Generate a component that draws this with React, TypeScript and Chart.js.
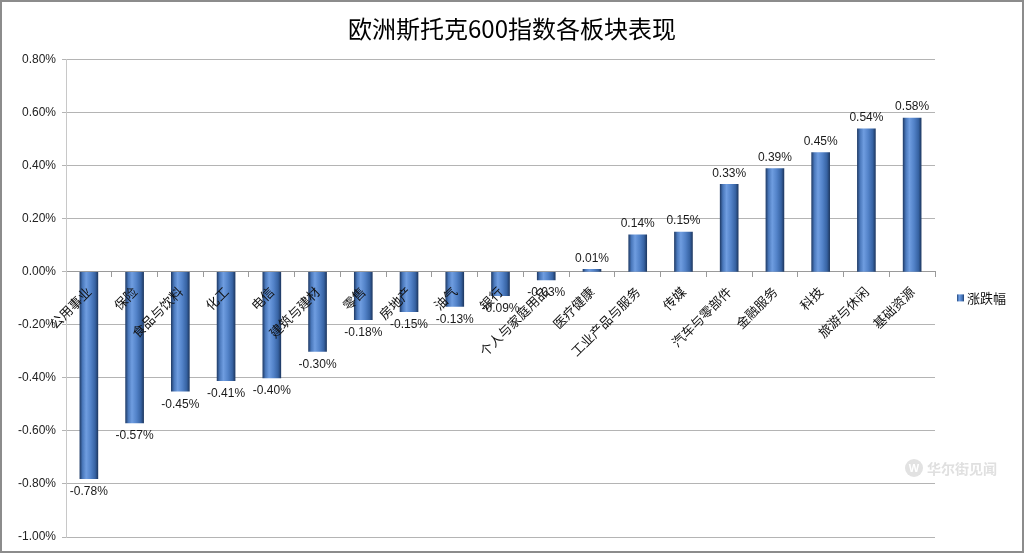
import React, { useEffect, useRef } from 'react';
import { Chart, registerables } from 'chart.js';

Chart.register(...registerables);

const titleText = '欧洲斯托克600指数各板块表现';
const seriesName = '涨跌幅';
const watermarkText = '华尔街见闻';

const categories = [
  '公用事业', '保险', '食品与饮料', '化工', '电信', '建筑与建材', '零售', '房地产', '油气', '银行',
  '个人与家庭用品', '医疗健康', '工业产品与服务', '传媒', '汽车与零部件', '金融服务', '科技', '旅游与休闲', '基础资源',
];

const values = [
  -0.78, -0.57, -0.45, -0.41, -0.40, -0.30, -0.18, -0.15, -0.13, -0.09,
  -0.03, 0.01, 0.14, 0.15, 0.33, 0.39, 0.45, 0.54, 0.58,
];

const yMin = -1.0;
const yMax = 0.8;
const yStep = 0.2;

const fmt = (v: number) => (Math.abs(v) < 1e-9 ? 0 : v).toFixed(2) + '%';

const CJK = '"Noto Sans CJK SC", "Noto Sans", sans-serif';
const LAT = '"Liberation Sans", Arial, sans-serif';

function barGradient(c: CanvasRenderingContext2D, x0: number, x1: number) {
  const g = c.createLinearGradient(x0, 0, x1, 0);
  g.addColorStop(0, '#223f6c');
  g.addColorStop(0.15, '#4a78bb');
  g.addColorStop(0.35, '#6f9de0');
  g.addColorStop(0.6, '#5383c9');
  g.addColorStop(0.85, '#3763a3');
  g.addColorStop(1, '#1f3a64');
  return g;
}

const BAR_W = 18;

const valueLabels = {
  id: 'valueLabels',
  afterDatasetsDraw(chart: any) {
    const meta = chart.getDatasetMeta(0);
    const c: CanvasRenderingContext2D = chart.ctx;
    c.save();
    c.font = '12px ' + LAT;
    c.fillStyle = '#1a1a1a';
    c.textAlign = 'center';
    meta.data.forEach((el: any, i: number) => {
      const v = values[i];
      const { x, y } = el.getProps(['x', 'y'], true);
      if (v >= 0) {
        c.textBaseline = 'bottom';
        c.fillText(fmt(v), x, y - 5);
      } else {
        c.textBaseline = 'top';
        c.fillText(fmt(v), x, y + 7);
      }
    });
    c.restore();
  },
};

const extras = {
  id: 'extras',
  afterDraw(chart: any) {
    const c: CanvasRenderingContext2D = chart.ctx;
    const area = chart.chartArea;
    // legend
    const lx = area.right + 22;
    const ly = (area.top + area.bottom) / 2;
    c.save();
    c.fillStyle = barGradient(c, lx, lx + 7);
    c.fillRect(lx, ly - 4, 7, 7);
    c.fillStyle = '#111';
    c.font = '13px ' + CJK;
    c.textAlign = 'left';
    c.textBaseline = 'middle';
    c.fillText(seriesName, lx + 10, ly);
    // watermark
    const wx = chart.width - 110;
    const wy = area.bottom - 69;
    c.fillStyle = '#e2e2e2';
    c.beginPath();
    c.arc(wx, wy, 9, 0, Math.PI * 2);
    c.fill();
    c.fillStyle = '#ffffff';
    c.font = 'bold 11px ' + LAT;
    c.textAlign = 'center';
    c.fillText('W', wx, wy + 1);
    c.fillStyle = '#e0e0e0';
    c.font = 'bold 14px ' + CJK;
    c.textAlign = 'left';
    c.fillText(watermarkText, wx + 13, wy + 1);
    c.restore();
  },
};

export default function App() {
  const ref = useRef<HTMLCanvasElement | null>(null);

  useEffect(() => {
    if (!ref.current) return;
    const chart = new Chart(ref.current, {
      type: 'bar',
      data: {
        labels: categories,
        datasets: [
          {
            label: seriesName,
            data: values,
            barThickness: BAR_W,
            borderWidth: 0,
            backgroundColor: (ctx: any) => {
              const xs = ctx.chart.scales && ctx.chart.scales.x;
              if (!xs || ctx.dataIndex == null) return '#4F81BD';
              const cx = xs.getPixelForValue(ctx.dataIndex);
              if (!Number.isFinite(cx)) return '#4F81BD';
              return barGradient(ctx.chart.ctx, cx - BAR_W / 2, cx + BAR_W / 2);
            },
          },
        ],
      },
      options: {
        animation: false,
        responsive: false,
        maintainAspectRatio: false,
        layout: { padding: { left: 8, right: 8, top: 10, bottom: 16 } },
        plugins: {
          legend: { display: false },
          tooltip: { enabled: false },
          title: {
            display: true,
            text: titleText,
            color: '#000',
            font: { family: CJK, size: 24, weight: 'normal', lineHeight: 1.2 },
            padding: { top: 4, bottom: 17 },
          },
        },
        scales: {
          x: {
            position: { y: 0 } as any,
            grid: {
              offset: true,
              drawOnChartArea: false,
              drawTicks: true,
              tickLength: 5,
              color: '#9a9a9a',
            },
            border: { display: true, color: '#9a9a9a' },
            ticks: {
              z: 1,
              autoSkip: false,
              minRotation: 45,
              maxRotation: 45,
              padding: 7,
              color: '#111',
              font: { family: CJK, size: 13 },
            },
          },
          y: {
            min: yMin,
            max: yMax,
            afterFit: (s: any) => {
              s.width = 58;
            },
            grid: { color: '#b4b4b4', tickLength: 4 },
            border: { display: true, color: '#c8c8c8' },
            ticks: {
              stepSize: yStep,
              padding: 6,
              color: '#222',
              font: { family: LAT, size: 12 },
              callback: (v: any) => fmt(Number(v)),
            },
          },
          legendSpace: {
            type: 'linear',
            position: 'right',
            display: true,
            grid: { display: false },
            border: { display: false },
            ticks: { display: false },
            afterFit: (s: any) => {
              s.width = 81;
            },
          },
        },
      },
      plugins: [valueLabels, extras],
    });
    return () => chart.destroy();
  }, []);

  return (
    <div style={{ position: 'fixed', left: 0, top: 0, width: 1024, height: 553, background: '#fff' }}>
      <canvas ref={ref} width={1024} height={553} style={{ width: 1024, height: 553, display: 'block' }} />
      <div
        style={{
          position: 'absolute',
          left: 0,
          top: 0,
          width: 1024,
          height: 553,
          boxSizing: 'border-box',
          border: '2px solid #8c8c8c',
          pointerEvents: 'none',
        }}
      />
    </div>
  );
}
